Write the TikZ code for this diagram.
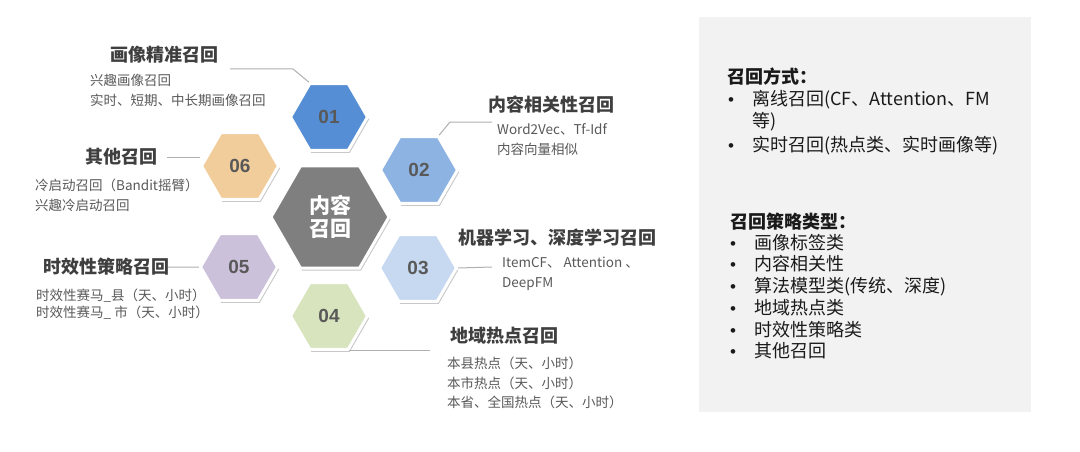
\documentclass[tikz,border=0pt]{standalone}
\usepackage{fontspec}
\setmainfont{Noto Sans CJK SC}
\newfontfamily\numfont{Liberation Sans}
\usetikzlibrary{shapes.geometric,shadows}
\definecolor{cA}{HTML}{558ED5}
\definecolor{cB}{HTML}{8DB3E2}
\definecolor{cC}{HTML}{C6D9F1}
\definecolor{cD}{HTML}{D7E4BD}
\definecolor{cE}{HTML}{CCC1DA}
\definecolor{cF}{HTML}{F1CD9B}
\definecolor{cMid}{HTML}{7F7F7F}
\definecolor{numgrey}{HTML}{595959}
\definecolor{titlegrey}{HTML}{3F3F3F}
\definecolor{bodygrey}{HTML}{595959}
\definecolor{linegrey}{HTML}{B0B0B0}
\definecolor{panel}{HTML}{F2F2F2}
\definecolor{paneltext}{HTML}{1A1A1A}
\begin{document}
\begin{tikzpicture}[x=1pt,y=-1pt,
  hexs/.style={regular polygon, regular polygon sides=6, minimum size=77pt, inner sep=0pt,
    draw=white, line width=3pt,
    drop shadow={shadow xshift=1.5pt, shadow yshift=-2.5pt, opacity=0.3, fill=black!70},
    font=\numfont\bfseries\fontsize{19}{19}\selectfont, text=numgrey},
  hexbig/.style={hexs, minimum size=118pt, text=white,
    font=\bfseries\fontsize{21}{23}\selectfont, align=center},
  ttl/.style={anchor=base west, inner sep=0pt, text=titlegrey, font=\bfseries\fontsize{18}{18}\selectfont},
  bdy/.style={anchor=base west, inner sep=0pt, text=bodygrey, font=\fontsize{13.5}{13.5}\selectfont},
  ptl/.style={anchor=base west, inner sep=0pt, text=paneltext, font=\bfseries\fontsize{18}{18}\selectfont},
  ptx/.style={anchor=base west, inner sep=0pt, text=paneltext, font=\fontsize{18}{18}\selectfont},
  pbl/.style={anchor=base west, inner sep=0pt, text=paneltext, font=\numfont\fontsize{17}{17}\selectfont},
  conn/.style={draw=linegrey, line width=1pt}
]
\useasboundingbox (0,0) rectangle (1080,452);
\fill[white] (0,0) rectangle (1080,452);
\fill[panel] (699,17) rectangle (1031,412);

% hexagons
\node[hexbig, fill=cMid] (c) at (330,217) {内容\\召回};
\node[hexs, fill=cA] (h1) at (329,117) {01};
\node[hexs, fill=cB] (h2) at (419,170) {02};
\node[hexs, fill=cC] (h3) at (418,268) {03};
\node[hexs, fill=cD] (h4) at (329,316) {04};
\node[hexs, fill=cE] (h5) at (239,267) {05};
\node[hexs, fill=cF] (h6) at (240,166) {06};

% connector ends
\coordinate (k1a) at (293,69);
\coordinate (k1b) at (230,69);
\coordinate (k2a) at (450,122);
\coordinate (k2b) at (492,122);
\coordinate (k3) at (492,267);
\coordinate (k4) at (430,347);
\coordinate (k5) at (168,267);
\coordinate (k6) at (167,157);

\draw[conn] (h1.120) -- (k1a) -- (k1b);
\draw[conn] (h2.60) -- (k2a) -- (k2b);
\draw[conn] (h3.east) -- (k3);
\draw[conn] (h4.-60) -- (h4.-60 -| k4);
\draw[conn] (h5.west) -- (k5);
\draw[conn] (h6.west |- k6) -- (k6);

% left/middle texts
\node[ttl] (t1) at (110,61.5) {画像精准召回};
\node[bdy] (t1a) at (90,86) {兴趣画像召回};
\node[bdy] (t1b) at (90,106) {实时、短期、中长期画像召回};

\node[ttl] (t6) at (85,163.5) {其他召回};
\node[bdy] (t6a) at (35,190) {冷启动召回（Bandit摇臂）};
\node[bdy] (t6b) at (35,210) {兴趣冷启动召回};

\node[ttl] (t5) at (43,273.5) {时效性策略召回};
\node[bdy] (t5a) at (36,300) {时效性赛马\_县（天、小时）};
\node[bdy] (t5b) at (36,317) {时效性赛马\_ 市（天、小时）};

\node[ttl] (t2) at (488,111.5) {内容相关性召回};
\node[bdy] (t2a) at (497,134) {Word2Vec、Tf-Idf};
\node[bdy] (t2b) at (497,154) {内容向量相似};

\node[ttl] (t3) at (458,244.5) {机器学习、深度学习召回};
\node[bdy] (t3a) at (502,267) {ItemCF、 Attention 、};
\node[bdy] (t3b) at (502,287) {DeepFM};

\node[ttl] (t4) at (450,342.5) {地域热点召回};
\node[bdy] (t4a) at (447,368) {本县热点（天、小时）};
\node[bdy] (t4b) at (447,388) {本市热点（天、小时）};
\node[bdy] (t4c) at (447,407) {本省、全国热点（天、小时）};

% right panel
\node[ptl] (p1) at (727,84) {召回方式：};
\node[pbl] (b1) at (728,106) {•};
\node[ptx] (p1a) at (752,106) {离线召回(CF、Attention、FM};
\node[ptx] (p1b) at (752,128) {等)};
\node[pbl] (b2) at (728,151) {•};
\node[ptx] (p1c) at (752,151) {实时召回(热点类、实时画像等)};

\node[ptl] (p2) at (730,228) {召回策略类型：};
\node[pbl] (b3) at (730,249) {•};
\node[ptx] (q1) at (754,249) {画像标签类};
\node[pbl] (b4) at (730,270) {•};
\node[ptx] (q2) at (754,270) {内容相关性};
\node[pbl] (b5) at (730,292) {•};
\node[ptx] (q3) at (754,292) {算法模型类(传统、深度)};
\node[pbl] (b6) at (730,314) {•};
\node[ptx] (q4) at (754,314) {地域热点类};
\node[pbl] (b7) at (730,336) {•};
\node[ptx] (q5) at (754,336) {时效性策略类};
\node[pbl] (b8) at (730,357) {•};
\node[ptx] (q6) at (754,357) {其他召回};
\end{tikzpicture}
\end{document}
